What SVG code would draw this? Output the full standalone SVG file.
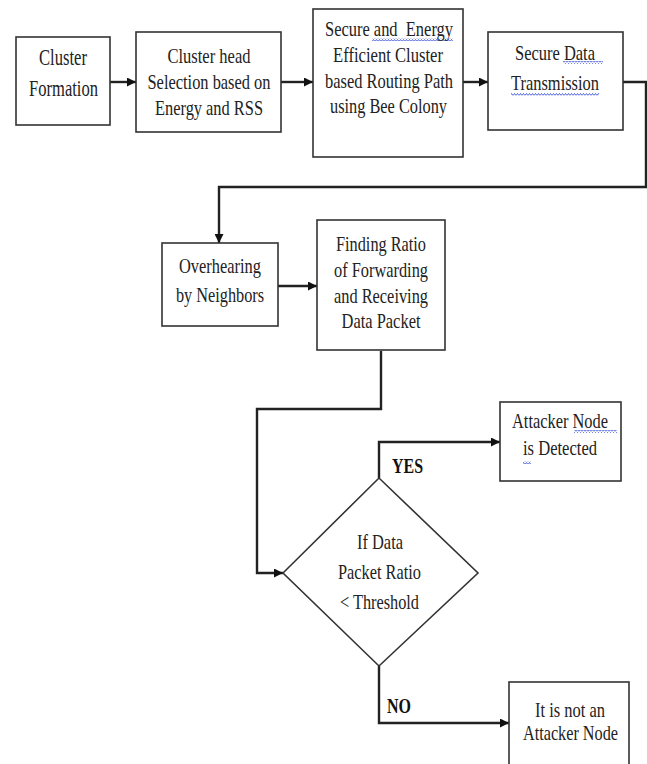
<svg xmlns="http://www.w3.org/2000/svg" width="647" height="764" viewBox="0 0 647 764">
<style>
.box{fill:#fff;stroke:#333;stroke-width:1.6}
.t{font-family:"Liberation Serif","Times New Roman",serif;font-size:21px;fill:#222;text-anchor:middle}
.big{font-size:23px}
.b{font-family:"Liberation Serif","Times New Roman",serif;font-size:20px;font-weight:bold;fill:#111;text-anchor:start}
.c{fill:none;stroke:#222;stroke-width:2.4}
.sq{fill:url(#wave)}
</style>
<defs>
<marker id="ah" markerUnits="userSpaceOnUse" markerWidth="9" markerHeight="9" viewBox="0 0 10 10" refX="10" refY="5" orient="auto">
<path d="M0,0 L10,5 L0,10 z" fill="#111"/>
</marker>
<pattern id="wave" patternUnits="userSpaceOnUse" width="3" height="3">
<path d="M0,2.5 L1.5,0.5 L3,2.5" fill="none" stroke="#3a4fd8" stroke-width="0.9"/>
</pattern>
</defs>
<rect width="647" height="764" fill="#fff"/>
<g id="connectors">
<path class="c" d="M110,82 H136" marker-end="url(#ah)"/>
<path class="c" d="M281,82 H313" marker-end="url(#ah)"/>
<path class="c" d="M463,82 H488" marker-end="url(#ah)"/>
<path class="c" d="M623,82 H646 V187 H219 V243" marker-end="url(#ah)"/>
<path class="c" d="M278,286 H317" marker-end="url(#ah)"/>
<path class="c" d="M381,351 V409 H257 V573 H283" marker-end="url(#ah)"/>
<path class="c" d="M379,478 V442 H500" marker-end="url(#ah)"/>
<path class="c" d="M379,666 V723 H509" marker-end="url(#ah)"/>
<text class="b" x="392" y="473" textLength="31" lengthAdjust="spacingAndGlyphs">YES</text>
<text class="b" x="387" y="713" textLength="24" lengthAdjust="spacingAndGlyphs">NO</text>
</g>
<g id="cluster-formation">
<rect class="box" x="16" y="37" width="94" height="88"/>
<text class="t big" x="63" y="65" textLength="48" lengthAdjust="spacingAndGlyphs">Cluster</text>
<text class="t big" x="63.5" y="96" textLength="69" lengthAdjust="spacingAndGlyphs">Formation</text>
</g>
<g id="cluster-head">
<rect class="box" x="136" y="32" width="145" height="100"/>
<text class="t" x="209" y="63" textLength="83" lengthAdjust="spacingAndGlyphs">Cluster head</text>
<text class="t" x="209" y="89" textLength="123" lengthAdjust="spacingAndGlyphs">Selection based on</text>
<text class="t" x="209" y="115" textLength="108" lengthAdjust="spacingAndGlyphs">Energy and RSS</text>
</g>
<g id="routing">
<rect class="box" x="313" y="9" width="150" height="148"/>
<rect class="sq" x="372" y="38" width="81" height="3"/>
<text class="t" xml:space="preserve" x="389" y="36" textLength="128" lengthAdjust="spacingAndGlyphs">Secure and  Energy</text>
<text class="t" x="388" y="62" textLength="110" lengthAdjust="spacingAndGlyphs">Efficient Cluster</text>
<text class="t" x="389" y="88" textLength="128" lengthAdjust="spacingAndGlyphs">based Routing Path</text>
<text class="t" x="388.5" y="113" textLength="117" lengthAdjust="spacingAndGlyphs">using Bee Colony</text>
</g>
<g id="secure-data">
<rect class="box" x="488" y="32" width="135" height="98"/>
<rect class="sq" x="563" y="61" width="40" height="3"/>
<rect class="sq" x="511" y="93" width="88" height="3"/>
<text class="t" x="555" y="60" textLength="80" lengthAdjust="spacingAndGlyphs">Secure Data</text>
<text class="t" x="555" y="90" textLength="88" lengthAdjust="spacingAndGlyphs">Transmission</text>
</g>
<g id="overhearing">
<rect class="box" x="162" y="243" width="116" height="83"/>
<text class="t" x="220" y="273" textLength="82" lengthAdjust="spacingAndGlyphs">Overhearing</text>
<text class="t" x="220" y="302" textLength="88" lengthAdjust="spacingAndGlyphs">by Neighbors</text>
</g>
<g id="finding-ratio">
<rect class="box" x="317" y="220" width="128" height="130"/>
<text class="t" x="381" y="251" textLength="90" lengthAdjust="spacingAndGlyphs">Finding Ratio</text>
<text class="t" x="381" y="277" textLength="94" lengthAdjust="spacingAndGlyphs">of Forwarding</text>
<text class="t" x="381" y="303" textLength="94" lengthAdjust="spacingAndGlyphs">and Receiving</text>
<text class="t" x="381" y="328" textLength="79" lengthAdjust="spacingAndGlyphs">Data Packet</text>
</g>
<g id="decision">
<polygon class="box" points="283,573 379,478 478,573 379,666"/>
<text class="t" x="380" y="549" textLength="46" lengthAdjust="spacingAndGlyphs">If Data</text>
<text class="t" x="379.5" y="579" textLength="83" lengthAdjust="spacingAndGlyphs">Packet Ratio</text>
<text class="t" x="379.5" y="609" textLength="79" lengthAdjust="spacingAndGlyphs">&lt; Threshold</text>
</g>
<g id="attacker-detected">
<rect class="box" x="500" y="402" width="121" height="79"/>
<rect class="sq" x="574" y="430" width="43" height="3"/>
<rect class="sq" x="523" y="461" width="8" height="3"/>
<text class="t" x="560" y="428" textLength="96" lengthAdjust="spacingAndGlyphs">Attacker Node</text>
<text class="t" x="560" y="455" textLength="74" lengthAdjust="spacingAndGlyphs">is Detected</text>
</g>
<g id="not-attacker">
<rect class="box" x="509" y="682" width="120" height="92"/>
<text class="t" x="570" y="717" textLength="70" lengthAdjust="spacingAndGlyphs">It is not an</text>
<text class="t" x="570.5" y="740" textLength="95" lengthAdjust="spacingAndGlyphs">Attacker Node</text>
</g>
</svg>
